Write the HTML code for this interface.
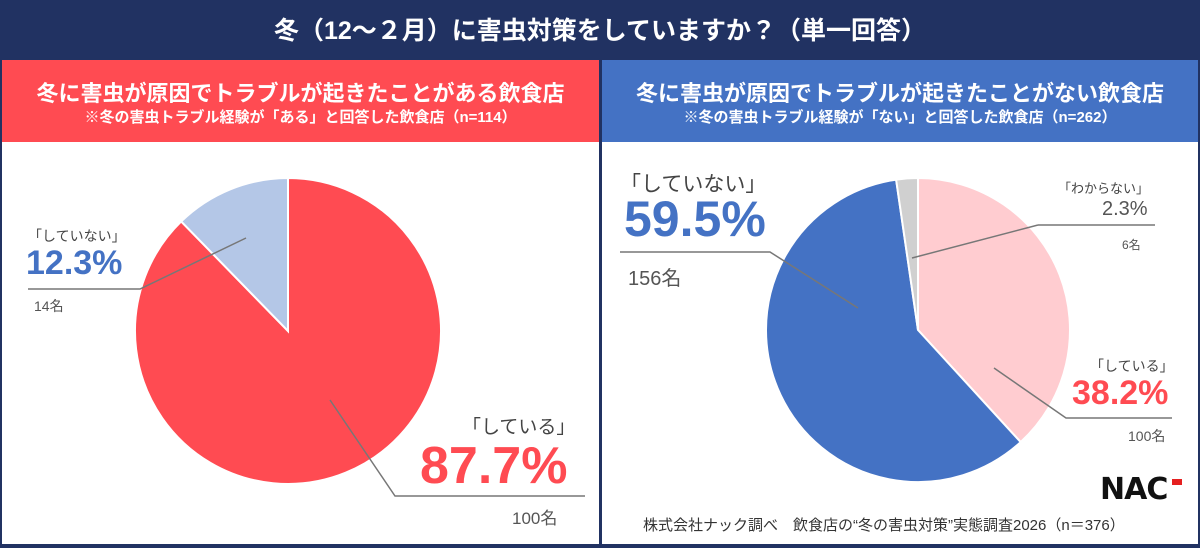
<!DOCTYPE html>
<html><head><meta charset="utf-8"><style>
body{margin:0;width:1200px;height:548px;background:#213262;font-family:"Liberation Sans","Noto Sans CJK JP",sans-serif;overflow:hidden;position:relative}
.t{position:absolute;white-space:nowrap}
</style></head><body>
<div class="t" style="left:0;width:1200px;top:11px;text-align:center;color:#fff;font-size:25px;font-weight:bold">冬（12～２月）に害虫対策をしていますか？（単一回答）</div>
<div style="position:absolute;left:2px;top:60px;width:597px;height:82px;background:#ff4b52"></div>
<div style="position:absolute;left:602px;top:60px;width:596px;height:82px;background:#4472c4"></div>
<div class="t" style="left:2px;width:597px;top:76px;text-align:center;color:#fff;font-size:22px;font-weight:bold">冬に害虫が原因でトラブルが起きたことがある飲食店</div>
<div class="t" style="left:2px;width:597px;top:106px;text-align:center;color:#fff;font-size:15px;font-weight:bold">※冬の害虫トラブル経験が「ある」と回答した飲食店（n=114）</div>
<div class="t" style="left:602px;width:596px;top:76px;text-align:center;color:#fff;font-size:22px;font-weight:bold">冬に害虫が原因でトラブルが起きたことがない飲食店</div>
<div class="t" style="left:602px;width:596px;top:106px;text-align:center;color:#fff;font-size:15px;font-weight:bold">※冬の害虫トラブル経験が「ない」と回答した飲食店（n=262）</div>
<div style="position:absolute;left:2px;top:142px;width:597px;height:402px;background:#fff"></div>
<div style="position:absolute;left:602px;top:142px;width:596px;height:402px;background:#fff"></div>
<svg id="s" width="1200" height="548" style="position:absolute;left:0;top:0"></svg>
<div class="t" style="left:28px;top:226px;font-size:14px;color:#444">「していない」</div>
<div class="t" style="left:26px;top:244px;font-size:34px;color:#4472c4;font-weight:bold">12.3%</div>
<div class="t" style="left:34px;top:296px;font-size:14px;color:#555">14名</div>
<div class="t" style="left:462px;top:412px;font-size:19px;color:#444">「している」</div>
<div class="t" style="left:420px;top:436px;font-size:52px;color:#ff4b52;font-weight:bold">87.7%</div>
<div class="t" style="left:512px;top:504px;font-size:17px;color:#555">100名</div>
<div class="t" style="left:620px;top:168px;font-size:21px;color:#444">「していない」</div>
<div class="t" style="left:624px;top:190px;font-size:50px;color:#4472c4;font-weight:bold">59.5%</div>
<div class="t" style="left:628px;top:262px;font-size:20px;color:#555">156名</div>
<div class="t" style="left:1058px;top:178px;font-size:13px;color:#444">「わからない」</div>
<div class="t" style="left:1102px;top:198px;font-size:20px;color:#555">2.3%</div>
<div class="t" style="left:1122px;top:236px;font-size:12px;color:#555">6名</div>
<div class="t" style="left:1090px;top:356px;font-size:14px;color:#444">「している」</div>
<div class="t" style="left:1072px;top:374px;font-size:34px;color:#ff4b52;font-weight:bold">38.2%</div>
<div class="t" style="left:1128px;top:426px;font-size:14px;color:#555">100名</div>
<div class="t" style="left:1100px;top:472px;font-size:30px;font-weight:900;color:#111;letter-spacing:-1px;font-family:'DejaVu Sans',sans-serif">NAC</div>
<div style="position:absolute;left:1172px;top:479px;width:10px;height:6px;background:#e52020"></div>
<div class="t" style="left:643px;top:514px;font-size:15px;color:#333">株式会社ナック調べ　飲食店の“冬の害虫対策”実態調査2026（n＝376）</div>
<script>
const leftCats=["している","していない"];
const leftVals=[87.7,12.3];
const rightCats=["している","していない","わからない"];
const rightVals=[38.2,59.5,2.3];
const leftColors=["#ff4b52","#b4c7e7"];
const rightColors=["#ffccd0","#4472c4","#d0d0d0"];
const s=document.getElementById('s');
const NS="http://www.w3.org/2000/svg";
function pt(cx,cy,r,f){const a=f*2*Math.PI-Math.PI/2;return [cx+r*Math.cos(a),cy+r*Math.sin(a)];}
function pie(cx,cy,r,vals,cols,cats,prefix){
 const tot=vals.reduce((a,b)=>a+b,0);let acc=0;
 vals.forEach((v,i)=>{
  const f0=acc/tot,f1=(acc+v)/tot;acc+=v;
  const p0=pt(cx,cy,r,f0),p1=pt(cx,cy,r,f1);
  const large=(f1-f0)>0.5?1:0;
  const p=document.createElementNS(NS,'path');
  p.setAttribute('d',`M${cx},${cy}L${p0[0]},${p0[1]}A${r},${r} 0 ${large} 1 ${p1[0]},${p1[1]}Z`);
  p.setAttribute('fill',cols[i]);p.setAttribute('stroke','#fff');p.setAttribute('stroke-width','2');
  
  
  s.appendChild(p);
 });
}
function line(pts){const l=document.createElementNS(NS,'polyline');l.setAttribute('points',pts);l.setAttribute('fill','none');l.setAttribute('stroke','#777');l.setAttribute('stroke-width','1.5');
 
 
 s.appendChild(l);}
pie(288,331,153,leftVals,leftColors,leftCats,'left');
pie(918,330,152,rightVals,rightColors,rightCats,'right');
line("28,289 140,289 246,238");
line("330,400 395,496 585,496");
line("620,252 770,252 858,308");
line("1038,225 1155,225");line("1038,225 912,258");
line("994,368 1066,418 1172,418");
</script>
</body></html>
